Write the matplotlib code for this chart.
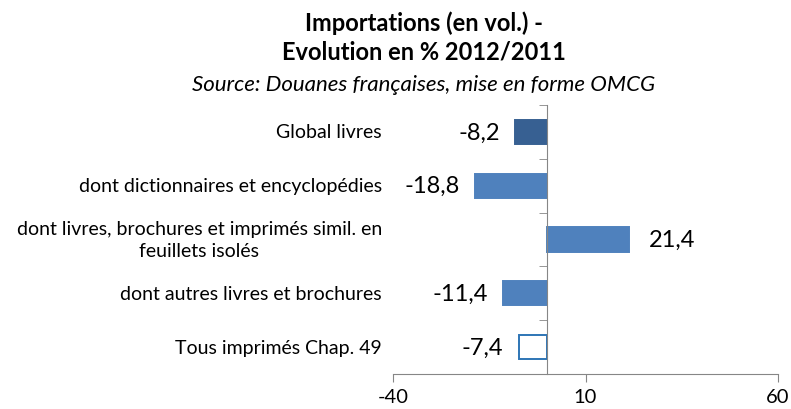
import matplotlib.pyplot as plt
from matplotlib.transforms import blended_transform_factory

# data
categories = [
    "Global livres",
    "dont dictionnaires et encyclopédies",
    "dont livres, brochures et imprimés simil. en\nfeuillets isolés",
    "dont autres livres et brochures",
    "Tous imprimés Chap. 49",
]
values = [-8.2, -18.8, 21.4, -11.4, -7.4]
value_labels = ["-8,2", "-18,8", "21,4", "-11,4", "-7,4"]
x_ticks = [-40, 10, 60]

plt.rcParams['font.family'] = ['Lato', 'DejaVu Sans']

fig = plt.figure(figsize=(7.91, 4.10), dpi=100)
ax = fig.add_axes([393 / 791, 1 - 375 / 410, (778 - 393) / 791, (375 - 106) / 410])

face = ['#376092', '#4F81BD', '#4F81BD', '#4F81BD', 'white']
edge = ['#376092', '#4F81BD', '#4F81BD', '#4F81BD', '#2E75B6']
ypos = list(range(len(categories)))
ax.barh(ypos, values, height=0.45, color=face, edgecolor=edge, linewidth=1.4)

ax.set_xlim(-40, 60)
ax.set_ylim(len(categories) - 0.5, -0.5)

# value labels
for y, v, lab in zip(ypos, values, value_labels):
    if v < 0:
        ax.annotate(lab, (v, y), xytext=(-11, 0), textcoords='offset points',
                    ha='right', va='center', fontsize=17)
    else:
        ax.annotate(lab, (v, y), xytext=(14, 0), textcoords='offset points',
                    ha='left', va='center', fontsize=17)

# category labels left of the plot
trans = blended_transform_factory(fig.transFigure, ax.transData)
for y, cat in zip(ypos, categories):
    ax.text(382 / 791, y, cat, transform=trans, ha='right', va='center',
            multialignment='center', fontsize=14, linespacing=1.4)

# axes styling
for s in ['top', 'right']:
    ax.spines[s].set_visible(False)
ax.spines['left'].set_position(('data', 0))
ax.spines['left'].set_color('#868686')
ax.spines['bottom'].set_color('#868686')
ax.set_yticks([])
ax.set_yticks([i - 0.5 for i in range(len(categories) + 1)], minor=True)
ax.tick_params(axis='y', which='minor', length=6, color='#868686', direction='out')
ax.set_xticks(x_ticks)
ax.set_xticklabels([str(t) for t in x_ticks], fontsize=14.5)
ax.tick_params(axis='x', length=6, color='#868686', pad=4)

fig.text(0.536, 1 - 23 / 410, "Importations (en vol.) -", ha='center', va='center',
         fontsize=17, fontweight='bold')
fig.text(0.536, 1 - 52 / 410, "Evolution en % 2012/2011", ha='center', va='center',
         fontsize=17, fontweight='bold')
fig.text(0.536, 1 - 85 / 410, "Source: Douanes françaises, mise en forme OMCG",
         ha='center', va='center', fontsize=16, style='italic')

fig.savefig('out.png', dpi=100)
